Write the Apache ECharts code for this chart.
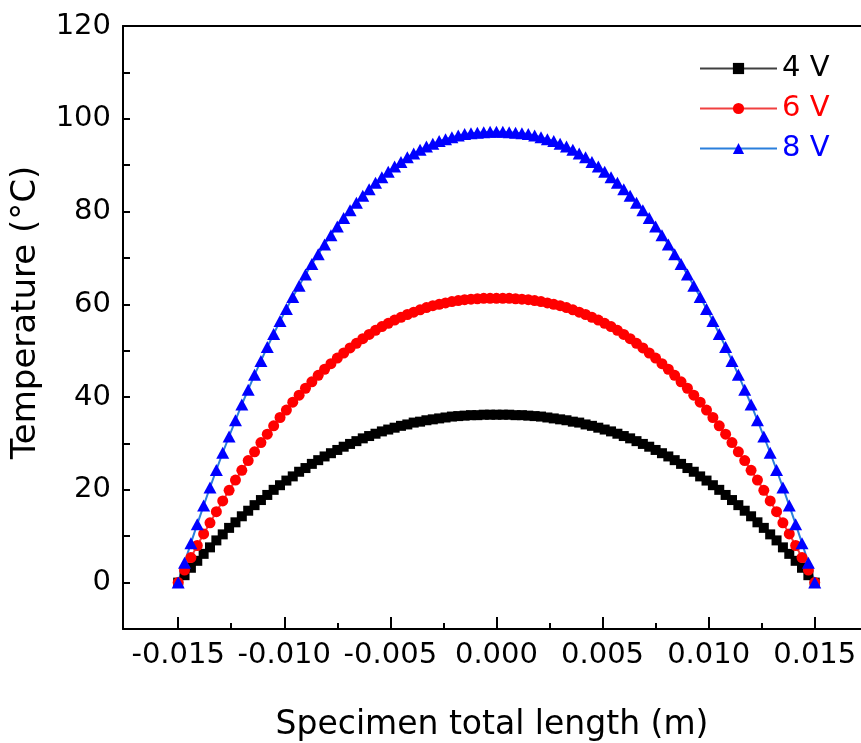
<!DOCTYPE html>
<html>
<head>
<meta charset="utf-8">
<script src="https://cdn.jsdelivr.net/npm/echarts@6/dist/echarts.min.js"></script>
<style>
html, body { margin: 0; padding: 0; background: #fff; overflow: hidden; }
#chart { width: 861px; height: 743px; }
</style>
</head>
<body>
<div id="chart"></div>
<script>
// position along the specimen (m)
var xs = [-0.015,-0.0147,-0.0144,-0.0141,-0.0138,-0.0135,-0.0132,-0.0129,-0.0126,-0.0123,
  -0.012,-0.0117,-0.0114,-0.0111,-0.0108,-0.0105,-0.0102,-0.0099,-0.0096,-0.0093,
  -0.009,-0.0087,-0.0084,-0.0081,-0.0078,-0.0075,-0.0072,-0.0069,-0.0066,-0.0063,
  -0.006,-0.0057,-0.0054,-0.0051,-0.0048,-0.0045,-0.0042,-0.0039,-0.0036,-0.0033,
  -0.003,-0.0027,-0.0024,-0.0021,-0.0018,-0.0015,-0.0012,-0.0009,-0.0006,-0.0003,
  0,
  0.0003,0.0006,0.0009,0.0012,0.0015,0.0018,0.0021,0.0024,0.0027,0.003,
  0.0033,0.0036,0.0039,0.0042,0.0045,0.0048,0.0051,0.0054,0.0057,0.006,
  0.0063,0.0066,0.0069,0.0072,0.0075,0.0078,0.0081,0.0084,0.0087,0.009,
  0.0093,0.0096,0.0099,0.0102,0.0105,0.0108,0.0111,0.0114,0.0117,0.012,
  0.0123,0.0126,0.0129,0.0132,0.0135,0.0138,0.0141,0.0144,0.0147,0.015];

// temperature (°C)
var t4 = [0,1.6,3.2,4.7,6.2,7.6,9.1,10.4,11.8,13.0,14.3,15.5,16.7,17.8,18.9,20.0,21.0,22.0,22.9,23.9,
  24.7,25.6,26.4,27.2,27.9,28.6,29.3,29.9,30.5,31.1,31.6,32.1,32.6,33.0,33.4,33.8,34.1,34.5,34.7,35.0,
  35.2,35.4,35.6,35.8,35.9,36.0,36.1,36.1,36.2,36.2,
  36.2,
  36.2,36.2,36.1,36.1,36.0,35.9,35.8,35.6,35.4,35.2,35.0,34.7,34.5,34.1,33.8,33.4,33.0,32.6,32.1,31.6,
  31.1,30.5,29.9,29.3,28.6,27.9,27.2,26.4,25.6,24.7,23.9,22.9,22.0,21.0,20.0,18.9,17.8,16.7,15.5,14.3,
  13.0,11.8,10.4,9.1,7.6,6.2,4.7,3.2,1.6,0];

var t6 = [0,2.7,5.4,8.0,10.5,12.9,15.3,17.6,19.9,22.1,24.2,26.3,28.2,30.2,32.0,33.8,35.6,37.2,38.9,40.4,
  41.9,43.3,44.7,46.0,47.2,48.4,49.5,50.6,51.6,52.6,53.5,54.4,55.2,55.9,56.6,57.2,57.8,58.3,58.8,59.3,
  59.7,60.0,60.3,60.6,60.8,61.0,61.1,61.2,61.3,61.3,
  61.3,
  61.3,61.3,61.2,61.1,61.0,60.8,60.6,60.3,60.0,59.7,59.3,58.8,58.3,57.8,57.2,56.6,55.9,55.2,54.4,53.5,
  52.6,51.6,50.6,49.5,48.4,47.2,46.0,44.7,43.3,41.9,40.4,38.9,37.2,35.6,33.8,32.0,30.2,28.2,26.3,24.2,
  22.1,19.9,17.6,15.3,12.9,10.5,8.0,5.4,2.7,0];

var t8 = [0,4.3,8.5,12.6,16.6,20.5,24.3,28.0,31.5,35.0,38.4,41.6,44.8,47.8,50.8,53.6,56.4,59.0,61.6,64.0,
  66.4,68.7,70.8,72.9,74.9,76.8,78.6,80.3,81.9,83.4,84.8,86.2,87.4,88.6,89.7,90.7,91.7,92.5,93.3,94.0,
  94.6,95.2,95.6,96.0,96.4,96.7,96.9,97.0,97.1,97.2,
  97.2,
  97.2,97.1,97.0,96.9,96.7,96.4,96.0,95.6,95.2,94.6,94.0,93.3,92.5,91.7,90.7,89.7,88.6,87.4,86.2,84.8,
  83.4,81.9,80.3,78.6,76.8,74.9,72.9,70.8,68.7,66.4,64.0,61.6,59.0,56.4,53.6,50.8,47.8,44.8,41.6,38.4,
  35.0,31.5,28.0,24.3,20.5,16.6,12.6,8.5,4.3,0];

var xMajor = [-0.015, -0.01, -0.005, 0, 0.005, 0.01, 0.015];
var xMinor = [-0.0125, -0.0075, -0.0025, 0.0025, 0.0075, 0.0125];
var yMajor = [0, 20, 40, 60, 80, 100, 120];
var yTicks = [0, 10, 20, 30, 40, 50, 60, 70, 80, 90, 100, 110, 120];

// the plot is cut off at the right edge of the picture
var X_MIN = -0.0176, X_MAX = 0.01718;

function pairs(vals) {
  var out = [];
  for (var i = 0; i < xs.length; i++) out.push([xs[i], vals[i]]);
  return out;
}

var FONT = 'DejaVu Sans';
var chart = echarts.init(document.getElementById('chart'));

var option = {
  animation: false,
  backgroundColor: '#fff',
  textStyle: { fontFamily: FONT },
  grid: { left: 123, top: 26, right: 0, bottom: 114, outerBoundsMode: 'none' },
  legend: {
    orient: 'vertical',
    left: 694, top: 49,
    itemWidth: 77, itemHeight: 14, itemGap: 11,
    textStyle: { fontSize: 29, fontFamily: FONT },
    data: [
      { name: '4 V', textStyle: { color: '#000' } },
      { name: '6 V', textStyle: { color: '#ff0000' } },
      { name: '8 V', textStyle: { color: '#0000ff' } }
    ]
  },
  xAxis: [
    {
      type: 'value', min: X_MIN, max: X_MAX, position: 'bottom',
      name: 'Specimen total length (m)', nameLocation: 'middle', nameGap: 80,
      nameTextStyle: { fontSize: 33, color: '#000', fontFamily: FONT },
      axisLine: { onZero: false, lineStyle: { color: '#000', width: 2 } },
      axisTick: { inside: true, length: 12, customValues: xMajor, lineStyle: { color: '#000', width: 2 } },
      axisLabel: {
        customValues: xMajor, margin: 12, fontSize: 29, color: '#000', fontFamily: FONT,
        formatter: function (v) { return v.toFixed(3); }
      },
      splitLine: { show: false }
    },
    {
      // minor ticks only
      type: 'value', min: X_MIN, max: X_MAX, position: 'bottom',
      axisLine: { show: false, onZero: false },
      axisTick: { inside: true, length: 6, customValues: xMinor, lineStyle: { color: '#000', width: 2 } },
      axisLabel: { show: false },
      splitLine: { show: false }
    },
    {
      // top frame line
      type: 'value', min: X_MIN, max: X_MAX, position: 'top',
      axisLine: { show: true, onZero: false, lineStyle: { color: '#000', width: 2 } },
      axisTick: { show: false },
      axisLabel: { show: false },
      splitLine: { show: false }
    }
  ],
  yAxis: {
    type: 'value', min: -10, max: 120,
    name: 'Temperature (°C)', nameLocation: 'middle', nameGap: 80, nameRotate: 90,
    nameTextStyle: { fontSize: 34, color: '#000', fontFamily: FONT, padding: [0, 0, 0, 30] },
    axisLine: { onZero: false, lineStyle: { color: '#000', width: 2 } },
    axisTick: { inside: true, length: 7, customValues: yTicks, lineStyle: { color: '#000', width: 2 } },
    axisLabel: { customValues: yMajor, margin: 12, fontSize: 29, color: '#000', fontFamily: FONT },
    splitLine: { show: false }
  },
  series: [
    {
      name: '4 V', type: 'line', xAxisIndex: 0, data: pairs(t4),
      symbol: 'rect', symbolSize: 10, showAllSymbol: true,
      itemStyle: { color: '#000' },
      lineStyle: { color: '#404040', width: 2 }
    },
    {
      name: '6 V', type: 'line', xAxisIndex: 0, data: pairs(t6),
      symbol: 'circle', symbolSize: 11, showAllSymbol: true,
      itemStyle: { color: '#ff0000' },
      lineStyle: { color: '#f04040', width: 2 }
    },
    {
      name: '8 V', type: 'line', xAxisIndex: 0, data: pairs(t8),
      symbol: 'triangle', symbolSize: [13, 12], showAllSymbol: true,
      itemStyle: { color: '#0000ff' },
      lineStyle: { color: '#2a7fdc', width: 2 }
    }
  ]
};

chart.setOption(option);
</script>
</body>
</html>
